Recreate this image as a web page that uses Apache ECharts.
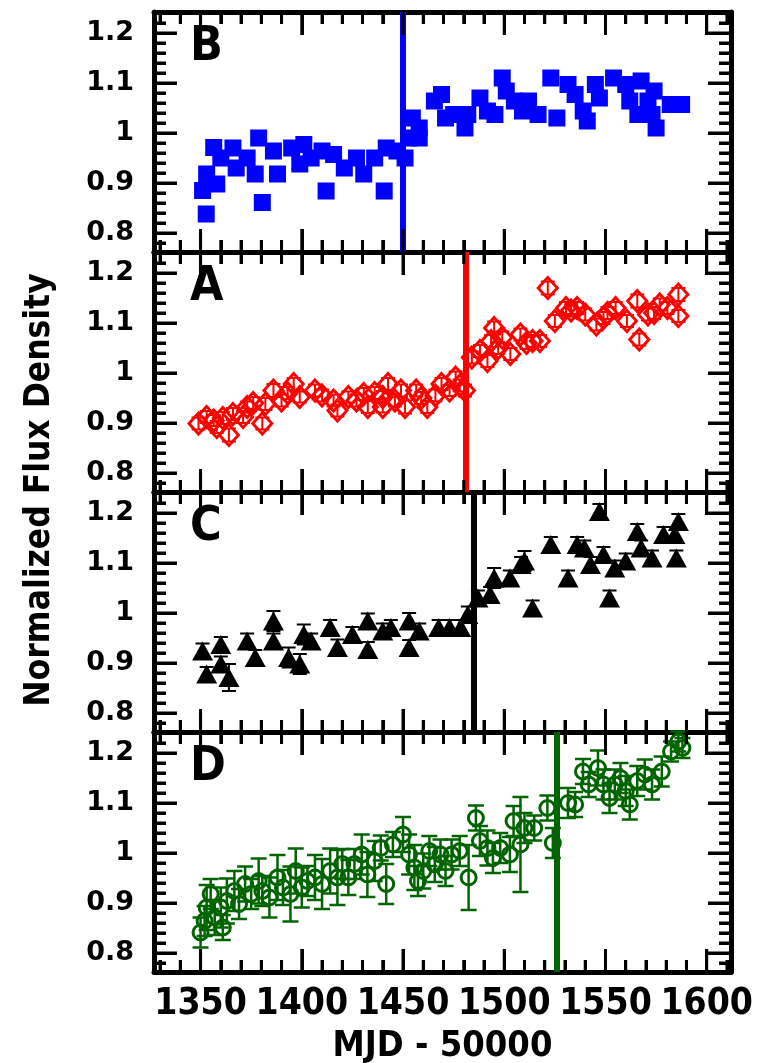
<!DOCTYPE html>
<html><head><meta charset="utf-8">
<script src="https://cdn.jsdelivr.net/npm/echarts@6/dist/echarts.min.js"></script>
<style>html,body{margin:0;padding:0;background:#fff}#c{width:759px;height:1063px}</style>
</head><body><div id="c"></div>
<script>
// ---------------- data ----------------
const panelLetters = ['B', 'A', 'C', 'D'];
const panelColors = ['#0000ff', '#ff0000', '#000000', '#006400'];
const eventMJD = [1450, 1481, 1485, 1526];
const xTitle = 'MJD - 50000';
const yTitle = 'Normalized Flux Density';

// tick values
const xMajorTicks = [1350, 1400, 1450, 1500, 1550, 1600];
const xMinorTicks = [1330, 1340, 1360, 1370, 1380, 1390, 1410, 1420, 1430, 1440, 1460, 1470, 1480, 1490, 1510, 1520, 1530, 1540, 1560, 1570, 1580, 1590, 1610];
const yMajorTicks = [0.8, 0.9, 1.0, 1.1, 1.2];
const yMinorTicks = [0.78, 0.82, 0.84, 0.86, 0.88, 0.92, 0.94, 0.96, 0.98, 1.02, 1.04, 1.06, 1.08, 1.12, 1.14, 1.16, 1.18, 1.22];

// Panel B (blue filled squares)
const bX = [1352.8,1351,1356.5,1360,1353,1358,1366,1367.6,1373,1378.7,1380.5,1377,1386,1388,1395,1401,1399,1404.6,1412,1410,1415.7,1421,1427,1430.6,1436,1440.7,1441.7,1447,1451,1452.8,1454.6,1458,1458,1465.5,1469,1471,1475,1480.6,1482,1488,1491.7,1495.4,1499,1501,1505,1509,1512,1516.7,1523,1526,1531.5,1535,1539,1541,1545,1547,1554,1560,1562,1567.6,1571,1573,1575,1574,1582,1587.6,1566];
const bY = [0.838,0.885,0.971,0.95,0.918,0.898,0.97,0.93,0.95,0.99,0.861,0.918,0.964,0.918,0.97,0.977,0.938,0.95,0.884,0.964,0.957,0.93,0.95,0.918,0.95,0.884,0.97,0.964,0.95,0.99,1.03,1.01,0.99,1.064,1.077,1.03,1.037,1.01,1.037,1.07,1.044,1.037,1.11,1.084,1.064,1.044,1.064,1.037,1.11,1.03,1.097,1.077,1.044,1.024,1.097,1.07,1.11,1.097,1.064,1.104,1.064,1.037,1.01,1.084,1.057,1.057,1.037];

// Panel A (red open diamonds)
const aX = [1349,1353,1356.5,1364,1358,1366,1373,1371,1380.5,1382,1386,1390,1396,1399,1406.5,1415.7,1417.6,1423,1430.6,1432.6,1440,1440,1442.6,1449,1451,1456.5,1462,1469,1473,1476,1480.6,1484,1488,1491.7,1493.5,1495,1499,1503,1508,1514,1517.6,1521.5,1525,1530.5,1536,1540,1545.5,1549,1555,1560.6,1565.7,1566.7,1571,1576.8,1580.6,1586,1586,1361,1376,1393,1410,1427,1436,1446,1459,1466,1478,1497,1511,1533,1551,1574];
const aY = [0.899,0.912,0.905,0.876,0.892,0.918,0.932,0.912,0.899,0.938,0.965,0.945,0.978,0.952,0.965,0.945,0.925,0.952,0.958,0.932,0.952,0.932,0.978,0.965,0.932,0.965,0.932,0.978,0.965,0.991,0.965,1.031,1.044,1.024,1.064,1.09,1.071,1.038,1.077,1.064,1.064,1.17,1.104,1.13,1.13,1.117,1.097,1.11,1.13,1.104,1.144,1.067,1.117,1.137,1.13,1.157,1.114,0.91,0.94,0.96,0.955,0.945,0.96,0.945,0.95,0.955,0.975,1.05,1.06,1.125,1.12,1.12];
const aErr = [0.012,0.012,0.011,0.013,0.012,0.012,0.011,0.012,0.012,0.012,0.013,0.012,0.012,0.011,0.012,0.012,0.012,0.011,0.012,0.012,0.012,0.011,0.012,0.012,0.013,0.012,0.012,0.012,0.011,0.012,0.012,0.012,0.012,0.012,0.012,0.013,0.012,0.012,0.012,0.012,0.012,0.013,0.012,0.012,0.012,0.012,0.012,0.012,0.012,0.012,0.013,0.012,0.012,0.012,0.012,0.013,0.012,0.012,0.012,0.012,0.012,0.012,0.012,0.012,0.012,0.012,0.012,0.012,0.012,0.012,0.012,0.012];

// Panel C (black filled triangles)
const cX = [1351,1353,1360,1360,1364,1373,1377,1386,1386,1393.5,1399,1401,1404.6,1414,1417.6,1425,1432.6,1432.6,1440,1444,1453,1453,1458,1467.6,1473,1478.5,1482,1487,1493,1495,1502.8,1508.3,1510,1514,1523,1531.5,1536,1539.6,1542.6,1547,1549,1552,1554.6,1560,1565.7,1567.6,1573,1578.7,1584.3,1586,1585];
const cY = [0.924,0.878,0.937,0.898,0.871,0.944,0.911,0.984,0.944,0.911,0.898,0.957,0.944,0.971,0.931,0.957,0.984,0.927,0.964,0.971,0.984,0.931,0.964,0.971,0.971,0.971,0.997,1.03,1.037,1.07,1.07,1.097,1.104,1.01,1.137,1.07,1.137,1.13,1.097,1.203,1.117,1.03,1.09,1.104,1.163,1.13,1.11,1.157,1.157,1.183,1.11];
const cErr = [0.015,0.014,0.015,0.015,0.027,0.015,0.015,0.02,0.015,0.02,0.02,0.02,0.015,0.015,0.016,0.015,0.015,0.015,0.015,0.015,0.016,0.015,0.015,0.015,0.015,0.015,0.016,0.015,0.015,0.02,0.015,0.015,0.02,0.015,0.015,0.015,0.015,0.015,0.015,0.015,0.015,0.015,0.015,0.015,0.015,0.015,0.015,0.015,0.015,0.015,0.015];

// Panel D (green open circles)
const dX = [1350,1352,1353,1355,1357,1360,1361,1363,1366.7,1369,1372,1375,1378.7,1380.5,1384,1388,1390.7,1394.4,1397,1400,1402.8,1406.5,1410,1414,1417.6,1420,1423,1426,1429.6,1432.4,1436,1439,1441.7,1445,1450,1453,1455.6,1457.4,1460,1463,1465.7,1468.5,1471,1474,1478,1482.4,1486,1488,1491.7,1494.4,1498,1502.8,1504.6,1508,1510,1514.8,1521.3,1524,1531.5,1535,1538.9,1541.7,1546.3,1549,1552,1554.6,1557.4,1560,1562,1565.7,1569.4,1573,1577.8,1582.4,1586,1588];
const dY = [0.841,0.864,0.891,0.918,0.871,0.891,0.851,0.904,0.924,0.898,0.938,0.918,0.944,0.924,0.911,0.951,0.931,0.918,0.964,0.931,0.944,0.951,0.938,0.964,0.951,0.978,0.951,0.978,0.997,0.957,0.984,1.01,0.938,1.017,1.037,0.997,0.971,0.944,0.964,1.004,0.977,0.997,0.964,0.997,1.004,0.951,1.07,1.024,1.01,0.99,1.01,0.997,1.064,1.017,1.05,1.05,1.09,1.02,1.1,1.097,1.163,1.137,1.17,1.137,1.11,1.137,1.15,1.124,1.097,1.144,1.157,1.137,1.163,1.203,1.223,1.21];
const dErr = [0.03,0.03,0.045,0.03,0.035,0.04,0.025,0.045,0.04,0.03,0.035,0.03,0.045,0.03,0.04,0.045,0.035,0.055,0.045,0.04,0.03,0.045,0.05,0.045,0.055,0.03,0.035,0.03,0.04,0.045,0.04,0.025,0.04,0.025,0.035,0.04,0.045,0.03,0.035,0.03,0.035,0.03,0.03,0.03,0.03,0.065,0.025,0.03,0.035,0.03,0.03,0.035,0.03,0.095,0.03,0.025,0.025,0.03,0.03,0.025,0.025,0.025,0.035,0.03,0.03,0.03,0.03,0.03,0.03,0.03,0.03,0.03,0.03,0.02,0.02,0.02];

// axis extents
const X_MIN = 1327, X_MAX = 1612;
const Y_MIN = 0.762, Y_MAX = 1.242;

// ---------------- chart ----------------
const COND = "'DejaVu Sans Condensed','Liberation Sans Narrow','Liberation Sans',sans-serif";
const chart = echarts.init(document.getElementById('c'), null, {renderer: 'canvas'});

const GRID_TOP = 12, GRID_H = 240;
const MAJ = 23, MIN = 12, TW = 3;
const grids = [], xAxes = [], yAxes = [], series = [];
const plain = v => String(Math.round(v * 1000) / 1000);

function axisOpt(extra, withLine, tickLen) {
  return Object.assign({
    type: 'value', splitLine: {show: false},
    axisLine: {show: withLine, onZero: false, lineStyle: {color: '#000', width: 5}},
    axisTick: {show: true, inside: true, length: tickLen, lineStyle: {color: '#000', width: TW}},
    axisLabel: {show: false}
  }, extra);
}

function errRender(color, cap, lw) {
  return function (params, api) {
    const x = api.value(0), y = api.value(1), e = api.value(2);
    const p1 = api.coord([x, y + e]), p2 = api.coord([x, y - e]);
    const st = {stroke: color, lineWidth: lw};
    return {type: 'group', children: [
      {type: 'line', shape: {x1: p1[0], y1: p1[1], x2: p2[0], y2: p2[1]}, style: st},
      {type: 'line', shape: {x1: p1[0] - cap, y1: p1[1], x2: p1[0] + cap, y2: p1[1]}, style: st},
      {type: 'line', shape: {x1: p2[0] - cap, y1: p2[1], x2: p2[0] + cap, y2: p2[1]}, style: st}
    ]};
  };
}

// inward tick marks drawn as thin bar symbols anchored on the frame, placed by the axis scales
function tickSeries(g, data, size, offset) {
  return {
    type: 'scatter', xAxisIndex: 4 * g, yAxisIndex: 4 * g, silent: true, clip: false, z: 5,
    symbol: 'rect', symbolSize: size, symbolOffset: offset,
    itemStyle: {color: '#000', opacity: 1}, emphasis: {disabled: true},
    data: data
  };
}

const panelData = [
  {x: bX, y: bY, err: null},
  {x: aX, y: aY, err: aErr},
  {x: cX, y: cY, err: cErr},
  {x: dX, y: dY, err: dErr}
];

for (let g = 0; g < 4; g++) {
  grids.push({left: 154, right: 28, top: GRID_TOP + GRID_H * g, height: GRID_H, outerBoundsMode: 'none'});
  const last = g === 3;
  const xb = {gridIndex: g, min: X_MIN, max: X_MAX};
  xAxes.push(axisOpt(Object.assign({}, xb, {
    position: 'bottom', splitNumber: 6,
    axisLabel: last ? {show: true, showMinLabel: false, showMaxLabel: false, margin: 14, color: '#000',
      fontFamily: COND, fontWeight: 'bold', fontSize: 37, formatter: plain} : {show: false},
    name: last ? xTitle : '', nameLocation: 'middle', nameGap: 57,
    nameTextStyle: {color: '#000', fontFamily: COND, fontWeight: 'bold', fontSize: 36}
  }), true, MAJ));
  xAxes.push(axisOpt(Object.assign({}, xb, {position: 'bottom', splitNumber: 28}), false, MIN));
  xAxes.push(axisOpt(Object.assign({}, xb, {position: 'top', splitNumber: 6}), true, MAJ));
  xAxes.push(axisOpt(Object.assign({}, xb, {position: 'top', splitNumber: 28}), false, MIN));

  const yb = {gridIndex: g, min: Y_MIN, max: Y_MAX};
  yAxes.push(axisOpt(Object.assign({}, yb, {
    position: 'left', splitNumber: 5,
    axisLabel: {show: true, showMinLabel: false, showMaxLabel: false, margin: 20, color: '#000',
      fontFamily: 'DejaVu Sans', fontWeight: 'bold', fontSize: 27, formatter: plain}
  }), true, MAJ));
  yAxes.push(axisOpt(Object.assign({}, yb, {position: 'left', splitNumber: 24}), false, MIN));
  yAxes.push(axisOpt(Object.assign({}, yb, {position: 'right', splitNumber: 5}), true, MAJ));
  yAxes.push(axisOpt(Object.assign({}, yb, {position: 'right', splitNumber: 24}), false, MIN));

  // tick marks on all four sides
  series.push(tickSeries(g, xMajorTicks.map(v => [v, Y_MIN]), [TW, MAJ], [0, -MAJ / 2]));
  series.push(tickSeries(g, xMinorTicks.map(v => [v, Y_MIN]), [TW, MIN], [0, -MIN / 2]));
  series.push(tickSeries(g, xMajorTicks.map(v => [v, Y_MAX]), [TW, MAJ], [0, MAJ / 2]));
  series.push(tickSeries(g, xMinorTicks.map(v => [v, Y_MAX]), [TW, MIN], [0, MIN / 2]));
  series.push(tickSeries(g, yMajorTicks.map(v => [X_MIN, v]), [MAJ, TW], [MAJ / 2, 0]));
  series.push(tickSeries(g, yMinorTicks.map(v => [X_MIN, v]), [MIN, TW], [MIN / 2, 0]));
  series.push(tickSeries(g, yMajorTicks.map(v => [X_MAX, v]), [MAJ, TW], [-MAJ / 2, 0]));
  series.push(tickSeries(g, yMinorTicks.map(v => [X_MAX, v]), [MIN, TW], [-MIN / 2, 0]));

  const pd = panelData[g];
  const color = panelColors[g];
  const pts = pd.x.map((v, i) => [v, pd.y[i]]);
  if (pd.err) {
    series.push({
      type: 'custom', coordinateSystem: 'cartesian2d', xAxisIndex: 4 * g, yAxisIndex: 4 * g,
      renderItem: errRender(color, g === 3 ? 8 : 7, g === 3 ? 2.5 : 2),
      encode: {x: 0, y: 1}, silent: true, z: 2,
      data: pd.x.map((v, i) => [v, pd.y[i], pd.err[i]])
    });
  }
  const sym = [
    {symbol: 'rect', symbolSize: 17, itemStyle: {color: color, opacity: 1}},
    {symbol: 'diamond', symbolSize: [19, 21], itemStyle: {color: 'transparent', borderColor: color, borderWidth: 3, opacity: 1}},
    {symbol: 'triangle', symbolSize: [21, 19], itemStyle: {color: color, opacity: 1}},
    {symbol: 'circle', symbolSize: 15, itemStyle: {color: 'transparent', borderColor: color, borderWidth: 3, opacity: 1}}
  ][g];
  series.push(Object.assign({
    type: 'scatter', xAxisIndex: 4 * g, yAxisIndex: 4 * g, data: pts, silent: true, z: 3,
    markLine: {
      silent: true, symbol: ['none', 'none'], label: {show: false}, animation: false,
      lineStyle: {color: color, width: 6, type: 'solid', opacity: 1},
      data: [{xAxis: eventMJD[g]}]
    }
  }, sym));
}

const graphics = panelLetters.map((t, g) => ({
  type: 'text', left: 190, top: 24 + GRID_H * g, z: 10,
  style: {text: t, fill: '#000', font: "bold 48px " + COND}
}));
graphics.push({
  type: 'text', x: 40, y: 490, rotation: Math.PI / 2, z: 10,
  style: {text: yTitle, fill: '#000', font: "bold 35px " + COND, textAlign: 'center', textVerticalAlign: 'middle'}
});

chart.setOption({
  animation: false,
  backgroundColor: '#fff',
  grid: grids, xAxis: xAxes, yAxis: yAxes, series: series, graphic: graphics
});
</script>
</body></html>
